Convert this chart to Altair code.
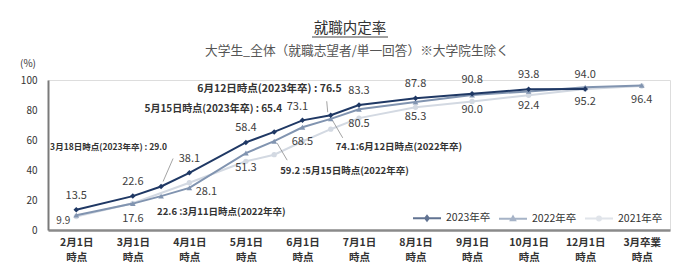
import json
import altair as alt
import pandas as pd

# ---------------- data ----------------
x_labels = ["2月1日", "3月1日", "4月1日", "5月1日", "6月1日", "7月1日",
            "8月1日", "9月1日", "10月1日", "12月1日", "3月卒業"]
x_label_sub = "時点"
series_names = ["2023年卒", "2022年卒", "2021年卒"]
series_colors = ["#1f3864", "#8194b0", "#d3d9e2"]

# x = position on the survey-date axis (category index; mid-month surveys halfway)
x_2023 = [0, 1, 1.5, 2, 3, 3.5, 4, 4.5, 5, 6, 7, 8, 9]
v_2023 = [13.5, 22.6, 29.0, 38.1, 58.4, 65.4, 73.1, 76.5, 83.3, 87.8, 90.8, 93.8, 94.0]
x_2022 = [0, 1, 1.5, 2, 3, 3.5, 4, 4.5, 5, 6, 7, 8, 9, 10]
v_2022 = [9.9, 17.6, 22.6, 28.1, 51.3, 59.2, 68.5, 74.1, 80.5, 85.3, 90.0, 92.4, 95.2, 96.4]
x_2021 = [0, 1, 2, 3, 3.5, 4, 4.5, 5, 6, 7, 8, 9, 10]
v_2021 = [9.0, 17.8, 31.5, 45.8, 50.2, 59.0, 67.2, 74.6, 81.8, 85.7, 89.8, 94.0, 96.0]

ann_2023_text = ["3月18日時点(2023年卒) : 29.0", "5月15日時点(2023年卒) : 65.4", "6月12日時点(2023年卒) : 76.5"]
ann_2022_text = ["22.6 :3月11日時点(2022年卒)", "59.2 :5月15日時点(2022年卒)", "74.1:6月12日時点(2022年卒)"]

title_text = "就職内定率"
subtitle_text = "大学生_全体（就職志望者/単一回答）※大学院生除く"
unit_text = "(%)"

FONT = "Noto Sans CJK JP"

# ---------------- frames ----------------
def frame(xs, vs, name):
    return pd.DataFrame({"x": xs, "v": vs, "series": name})

d23 = frame(x_2023, v_2023, series_names[0])
d22 = frame(x_2022, v_2022, series_names[1])
d21 = frame(x_2021, v_2021, series_names[2])
all_df = pd.concat([d23, d22, d21], ignore_index=True)

mid23 = d23[d23["x"] % 1 != 0].reset_index(drop=True).assign(t=ann_2023_text)
mid22 = d22[d22["x"] % 1 != 0].reset_index(drop=True).assign(t=ann_2022_text)

labels_js = json.dumps(x_labels, ensure_ascii=False)

X = alt.X("x:Q", scale=alt.Scale(domain=[-0.5, 10.5], nice=False, zero=False),
          axis=alt.Axis(values=list(range(len(x_labels))), ticks=False, grid=False,
                        labelExpr=f"[{labels_js}[datum.value], '{x_label_sub}']",
                        labelFont=FONT, labelFontSize=10.5, labelFontWeight="bold",
                        labelColor="#333333", labelPadding=7, labelLineHeight=15,
                        domainColor="#8a8a8a", domainWidth=2.5, title=None))
Y = alt.Y("v:Q", scale=alt.Scale(domain=[0, 100], nice=False),
          axis=alt.Axis(values=[0, 20, 40, 60, 80, 100], ticks=False, grid=False,
                        labelFont=FONT, labelFontSize=10, labelColor="#333333",
                        labelPadding=11, domainColor="#7a7a7a", domainWidth=2,
                        title=None))

layers = []
shapes = ["diamond", "triangle-up", "circle"]
sizes = [30, 32, 28]
for df, col, shp, sz in zip([d21, d22, d23], series_colors[::-1], shapes[::-1], sizes[::-1]):
    base = alt.Chart(df).encode(x=X, y=Y)
    layers.append(base.mark_line(color=col, strokeWidth=2))
    layers.append(base.mark_point(shape=shp, filled=True, color=col, size=sz, opacity=1))

# value labels
def vlab(df, dx=0, dy=0, size=11):
    return alt.Chart(df).mark_text(
        font=FONT, fontSize=size, color="#404040", dx=dx, dy=dy).encode(
        x=X, y=Y, text=alt.Text("v:Q", format=".1f"))

main23 = d23[d23["x"] % 1 == 0]
main22 = d22[d22["x"] % 1 == 0]
layers += [
    vlab(main23[main23["x"] != 4], dy=-14),
    vlab(main23[main23["x"] == 4], dx=-5, dy=-13),
    vlab(main22[~main22["x"].isin([0, 2])], dy=15),
    vlab(main22[main22["x"] == 0], dx=-13, dy=6, size=10),
    vlab(main22[main22["x"] == 2], dx=17, dy=4),
]

# annotations (text + leader lines)
def ann(df, i, align, dx, dy, size=10.5):
    return alt.Chart(df.iloc[[i]]).mark_text(
        font=FONT, fontSize=size, fontWeight="bold", color="#333333",
        align=align, dx=dx, dy=dy).encode(x=X, y=Y, text="t:N")

def leader(df, i, xo, yo, x2o, y2o):
    return alt.Chart(df.iloc[[i]]).mark_rule(
        color="#8c8c8c", strokeWidth=0.8,
        xOffset=xo, yOffset=yo, x2Offset=x2o, y2Offset=y2o).encode(
        x=X, y=Y, x2="x:Q", y2="v:Q")

layers += [
    ann(mid23, 0, "right", 6, -40, size=8.5), leader(mid23, 0, 2, -5, 12, -28),
    ann(mid23, 1, "right", 8, -23, size=10),
    ann(mid23, 2, "right", 11, -26), leader(mid23, 2, -3, -3, -4, -14),
    ann(mid22, 0, "left", -4, 16, size=9.5),
    ann(mid22, 1, "left", 6, 30, size=9.5), leader(mid22, 1, 3, 2, 13, 19),
    ann(mid22, 2, "left", 5, 28, size=9.5), leader(mid22, 2, 2, 2, 12, 19),
]

# legend layer (no visible marks; legend from explicit scale domains)
leg_paths = [
    "M-1,0H1M0,-0.17L0.13,0L0,0.17L-0.13,0Z",
    "M-1,0H1M0,-0.16L0.15,0.1L-0.15,0.1Z",
    "M-1,0H1M0.14,0A0.14,0.14,0,1,1,-0.14,0A0.14,0.14,0,1,1,0.14,0Z",
]
leg = alt.Legend(title=None, orient="none", legendX=364, legendY=123,
                 direction="horizontal", symbolSize=784, symbolStrokeWidth=2,
                 labelFont=FONT, labelFontSize=10.5, labelColor="#333333",
                 labelOffset=4, columnPadding=4)
legend_layer = alt.Chart(all_df).transform_filter("datum.v < -1000").mark_point(
    filled=True, size=784).encode(
    x=X, y=Y,
    fill=alt.Fill("series:N", scale=alt.Scale(domain=series_names, range=series_colors), legend=leg),
    stroke=alt.Stroke("series:N", scale=alt.Scale(domain=series_names, range=series_colors), legend=leg),
    shape=alt.Shape("series:N", scale=alt.Scale(domain=series_names, range=leg_paths), legend=leg),
)
layers.append(legend_layer)

# titles
one = pd.DataFrame({"t": [title_text]})
title = alt.Chart(one).mark_text(font=FONT, fontSize=14.5, color="#333333",
                                 baseline="middle").encode(
    x=alt.value(302), y=alt.value(-51), text="t:N")
underline = alt.Chart(one).mark_rule(color="#444444", strokeWidth=1).encode(
    x=alt.value(264), x2=alt.value(340), y=alt.value(-43))
sub = alt.Chart(pd.DataFrame({"t": [subtitle_text]})).mark_text(
    font=FONT, fontSize=12.7, color="#555555", baseline="middle").encode(
    x=alt.value(309), y=alt.value(-29), text="t:N")
unit = alt.Chart(pd.DataFrame({"t": [unit_text]})).mark_text(
    font=FONT, fontSize=10, color="#333333", baseline="middle").encode(
    x=alt.value(-20), y=alt.value(-16), text="t:N")
layers += [title, underline, sub, unit]

chart = alt.layer(*layers).properties(
    width=622, height=150,
    padding={"left": 48, "top": 80, "right": 30, "bottom": 50},
    autosize=alt.AutoSizeParams(type="none"),
).configure_view(stroke=None).configure(background="white")

chart.save("out.html", embed_options={"renderer": "svg", "actions": False})
